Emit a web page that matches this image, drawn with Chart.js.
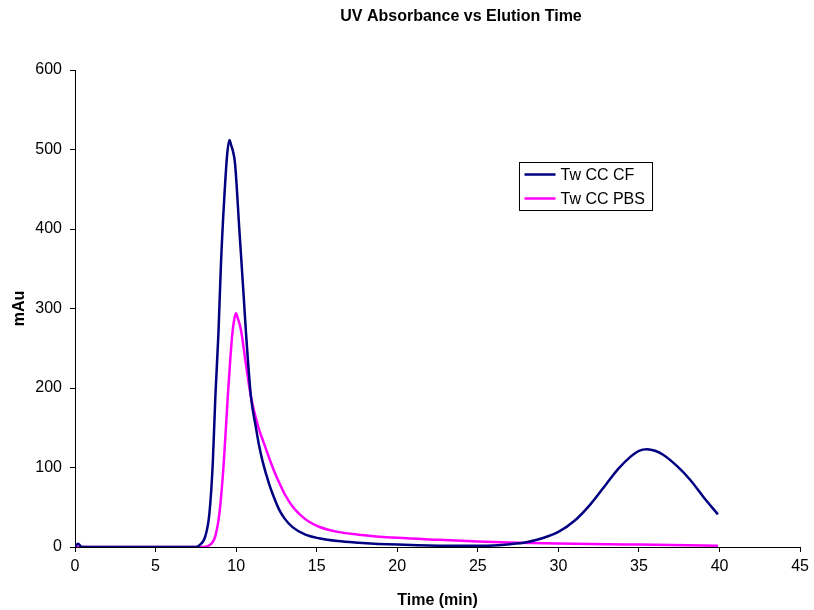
<!DOCTYPE html>
<html>
<head>
<meta charset="utf-8">
<script src="https://cdn.jsdelivr.net/npm/chart.js@4.4.0/dist/chart.umd.min.js"></script>
<style>
    html, body { margin: 0; padding: 0; background: #fff; }
    #wrap { width: 814px; height: 610px; }
</style>
</head>
<body>
<div id="wrap"><canvas id="uv-chart" width="814" height="610"></canvas></div>
<script>
// Elution time (min) and absorbance (mAu)
const cfTime  = [0, 0.1, 0.2, 0.35, 0.6, 7.5, 7.73, 8.08, 8.34, 8.55, 8.71, 8.9, 9.06, 9.27, 9.45, 9.58, 9.7, 9.8, 9.93,
                 10.2, 10.47, 10.6, 10.92, 11.23, 11.43, 11.64, 12.05, 12.26, 12.67, 13.0, 13.5, 14.3, 15.14, 16.3, 17.6,
                 20, 22.6, 25, 26, 27, 28, 29, 30, 31, 32, 33, 33.7, 34.5, 35, 35.5, 36, 36.5, 37.4, 38.2, 39, 39.9];
const cfValue = [0, 3, 4, 1, 0, 0, 2.5, 13, 42, 105, 189, 268, 357, 441, 495, 512, 505, 498, 483,
                 399, 315, 273, 189, 150, 127, 108, 79, 67, 47, 36, 25, 15.5, 11, 7.5, 5.5,
                 3, 1.7, 1.5, 2, 3.5, 6, 11, 19, 33, 54, 80, 98, 114, 121, 123, 121, 116, 101, 84, 63, 41];

const pbsTime  = [0, 7.9, 8.24, 8.5, 8.7, 8.96, 9.23, 9.48, 9.65, 9.79, 9.9, 9.99, 10.1, 10.3, 10.6, 10.92, 11.39,
                  11.7, 12.05, 12.35, 12.67, 13.0, 13.5, 14.0, 14.5, 15.14, 16.3, 17.6, 20, 22.6, 25, 27.5, 30, 35, 39.9];
const pbsValue = [0, 0, 1, 5, 13, 42, 105, 189, 240, 273, 288, 294, 288, 273, 231, 189, 150,
                  132, 112, 96, 81, 67, 51, 40, 32, 25.5, 19, 15.5, 11.5, 9, 7, 5.5, 4.5, 3, 1.7];

const seriesNames = ['Tw CC CF', 'Tw CC PBS'];
const seriesColors = ['#000080', '#FF00FF'];

const FONT = '"Liberation Sans", Arial, Helvetica, sans-serif';

const toPoints = (xs, ys) => xs.map((x, i) => ({ x: x, y: ys[i] }));

// Title centred the way the original sits, above the plot
const titlePlugin = {
    id: 'uvTitle',
    afterDraw(chart) {
        const ctx = chart.ctx;
        ctx.save();
        ctx.fillStyle = '#000';
        ctx.font = 'bold 16px ' + FONT;
        ctx.textAlign = 'center';
        ctx.textBaseline = 'middle';
        ctx.fillText('UV Absorbance vs Elution Time', 461, 17);
        ctx.restore();
    }
};

// Boxed legend inside the plot, upper right
const boxLegend = {
    id: 'boxLegend',
    afterDraw(chart) {
        const ctx = chart.ctx;
        const x = 519.5, y = 162.5, w = 133, h = 48;
        ctx.save();
        ctx.fillStyle = '#fff';
        ctx.fillRect(x, y, w, h);
        ctx.strokeStyle = '#000';
        ctx.lineWidth = 1;
        ctx.strokeRect(x, y, w, h);
        ctx.font = '16px ' + FONT;
        ctx.textBaseline = 'middle';
        ctx.textAlign = 'left';
        chart.data.datasets.forEach((ds, i) => {
            const ly = y + 12 + i * 24;
            ctx.strokeStyle = ds.borderColor;
            ctx.lineWidth = 2.5;
            ctx.beginPath();
            ctx.moveTo(x + 5, ly);
            ctx.lineTo(x + 36, ly);
            ctx.stroke();
            ctx.fillStyle = '#000';
            ctx.fillText(ds.label, x + 41, ly + 1);
        });
        ctx.restore();
    }
};

const ctx = document.getElementById('uv-chart');
new Chart(ctx, {
    type: 'line',
    data: {
        datasets: [
            {
                label: seriesNames[0],
                data: toPoints(cfTime, cfValue),
                borderColor: seriesColors[0],
                backgroundColor: seriesColors[0],
                borderWidth: 2.5,
                pointRadius: 0,
                cubicInterpolationMode: 'monotone',
                fill: false
            },
            {
                label: seriesNames[1],
                data: toPoints(pbsTime, pbsValue),
                borderColor: seriesColors[1],
                backgroundColor: seriesColors[1],
                borderWidth: 2.5,
                pointRadius: 0,
                cubicInterpolationMode: 'monotone',
                fill: false
            }
        ]
    },
    options: {
        responsive: false,
        animation: false,
        devicePixelRatio: 1,
        layout: { padding: { top: 70, right: 9, bottom: 0, left: 0 } },
        plugins: {
            legend: { display: false },
            title: { display: false },
            tooltip: { enabled: false }
        },
        scales: {
            x: {
                type: 'linear',
                min: 0,
                max: 45,
                afterFit: (scale) => { scale.height = 63; },
                ticks: { stepSize: 5, color: '#000', padding: 5, font: { family: FONT, size: 16 } },
                grid: { drawOnChartArea: false, drawTicks: true, tickLength: 5, color: '#000' },
                border: { color: '#000', width: 1 },
                title: {
                    display: true,
                    text: 'Time (min)',
                    color: '#000',
                    padding: { top: 0, bottom: 0 },
                    font: { family: FONT, size: 16, weight: 'bold' }
                }
            },
            y: {
                min: 0,
                max: 600,
                afterFit: (scale) => { scale.width = 75; },
                ticks: { stepSize: 100, color: '#000', padding: 8, font: { family: FONT, size: 16 } },
                grid: { drawOnChartArea: false, drawTicks: true, tickLength: 5, color: '#000' },
                border: { color: '#000', width: 1 },
                title: {
                    display: true,
                    text: 'mAu',
                    color: '#000',
                    padding: { top: 10, bottom: 0 },
                    font: { family: FONT, size: 16, weight: 'bold' }
                }
            }
        }
    },
    plugins: [titlePlugin, boxLegend]
});
</script>
</body>
</html>
